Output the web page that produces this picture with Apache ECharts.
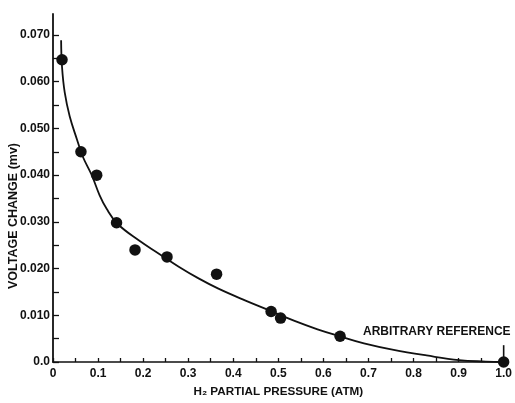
<!DOCTYPE html>
<html>
<head>
<meta charset="utf-8">
<script src="https://cdn.jsdelivr.net/npm/echarts@6/dist/echarts.min.js"></script>
<style>
html,body{margin:0;padding:0;background:#fff;}
#chart{width:515px;height:403px;}
</style>
</head>
<body>
<div id="chart"></div>
<script>
// Measured data points: H2 partial pressure (atm) vs voltage change (mv)
const pressure = [0.02, 0.062, 0.097, 0.141, 0.182, 0.253, 0.363, 0.484, 0.505, 0.637, 1.0];
const voltage  = [0.0647, 0.0450, 0.0400, 0.0298, 0.0240, 0.0225, 0.0188, 0.0108, 0.0094, 0.0055, 0.0];

// Hand-drawn fitted curve
const curveX = [0.018, 0.020, 0.026, 0.037, 0.053, 0.066, 0.086, 0.103, 0.119, 0.143, 0.191, 0.235, 0.279, 0.323, 0.367, 0.426, 0.484, 0.536, 0.587, 0.637, 0.690, 0.756, 0.829, 0.901, 0.960, 1.0];
const curveY = [0.0689, 0.0632, 0.0577, 0.0526, 0.0477, 0.0440, 0.0400, 0.0358, 0.0328, 0.0296, 0.0260, 0.0232, 0.0204, 0.0179, 0.0157, 0.0132, 0.0109, 0.0088, 0.0070, 0.0055, 0.0040, 0.0026, 0.0014, 0.0004, 0.0001, 0.0];

// Reference pointer at 1.0 atm
const refX = [1.0, 1.0];
const refY = [0.0036, 0.0];
const refText = 'ARBITRARY REFERENCE';

// Axis ticks and labels
const yTickVals = [0, 0.005, 0.010, 0.015, 0.020, 0.025, 0.030, 0.035, 0.040, 0.045, 0.050, 0.055, 0.060, 0.065, 0.070];
const yLabelVals = [0, 0.010, 0.020, 0.030, 0.040, 0.050, 0.060, 0.070];
const yLabels = ['0.0', '0.010', '0.020', '0.030', '0.040', '0.050', '0.060', '0.070'];
const xTickVals = [0, 0.05, 0.1, 0.15, 0.2, 0.25, 0.3, 0.35, 0.4, 0.45, 0.5, 0.55, 0.6, 0.65, 0.7, 0.75, 0.8, 0.85, 0.9, 0.95, 1.0];
const xLabelVals = [0, 0.1, 0.2, 0.3, 0.4, 0.5, 0.6, 0.7, 0.8, 0.9, 1.0];
const xLabels = ['0', '0.1', '0.2', '0.3', '0.4', '0.5', '0.6', '0.7', '0.8', '0.9', '1.0'];

const xName = 'H₂ PARTIAL PRESSURE (ATM)';
const yName = 'VOLTAGE CHANGE (mv)';

const INK = '#111';
const FONT = 'Liberation Sans';

const chart = echarts.init(document.getElementById('chart'), null, {renderer: 'canvas'});

function nearest(vals, labels, v) {
  let best = 0;
  for (let i = 1; i < vals.length; i++) if (Math.abs(vals[i] - v) < Math.abs(vals[best] - v)) best = i;
  return labels[best];
}

chart.setOption({
  animation: false,
  backgroundColor: '#fff',
  grid: {left: 53, right: 7, top: 14, bottom: 39, containLabel: false},
  xAxis: {
    type: 'value',
    min: 0, max: 1.0,
    name: xName,
    nameLocation: 'middle',
    nameGap: 24,
    nameTextStyle: {color: INK, fontFamily: FONT, fontWeight: 'bold', fontSize: 11.7},
    axisLine: {show: true, onZero: false, lineStyle: {color: INK, width: 1.6}},
    axisTick: {show: true, inside: true, length: 4, customValues: xTickVals, lineStyle: {color: INK, width: 1.3}},
    axisLabel: {
      customValues: xLabelVals,
      margin: 6,
      color: INK, fontFamily: FONT, fontWeight: 'bold', fontSize: 12,
      formatter: v => nearest(xLabelVals, xLabels, v)
    },
    splitLine: {show: false}
  },
  yAxis: {
    type: 'value',
    min: 0, max: 0.0745,
    axisLine: {show: true, onZero: false, lineStyle: {color: INK, width: 1.8}},
    axisTick: {show: true, inside: true, length: 6, customValues: yTickVals, lineStyle: {color: INK, width: 1.3}},
    axisLabel: {
      customValues: yLabelVals,
      margin: 3,
      color: INK, fontFamily: FONT, fontWeight: 'bold', fontSize: 12,
      formatter: v => nearest(yLabelVals, yLabels, v)
    },
    splitLine: {show: false}
  },
  series: [
    {
      type: 'line',
      data: curveX.map((x, i) => [x, curveY[i]]),
      smooth: 0.4,
      showSymbol: false,
      clip: false,
      lineStyle: {color: INK, width: 1.8},
      z: 2
    },
    {
      type: 'scatter',
      data: pressure.map((x, i) => [x, voltage[i]]),
      symbol: 'circle',
      symbolSize: 11.5,
      clip: false,
      itemStyle: {color: INK, opacity: 1},
      z: 3
    },
    {
      type: 'line',
      data: refX.map((x, i) => [x, refY[i]]),
      showSymbol: false,
      clip: false,
      lineStyle: {color: INK, width: 1.6},
      z: 3
    }
  ],
  graphic: [
    {
      type: 'text',
      x: 14, y: 216,
      rotation: Math.PI / 2,
      style: {text: yName, fill: INK, font: 'bold 12.5px "Liberation Sans"', align: 'center', verticalAlign: 'middle'}
    },
    {
      type: 'text',
      left: 363, top: 326,
      style: {text: refText, fill: INK, font: 'bold 12px "Liberation Sans"'}
    }
  ]
});
</script>
</body>
</html>
